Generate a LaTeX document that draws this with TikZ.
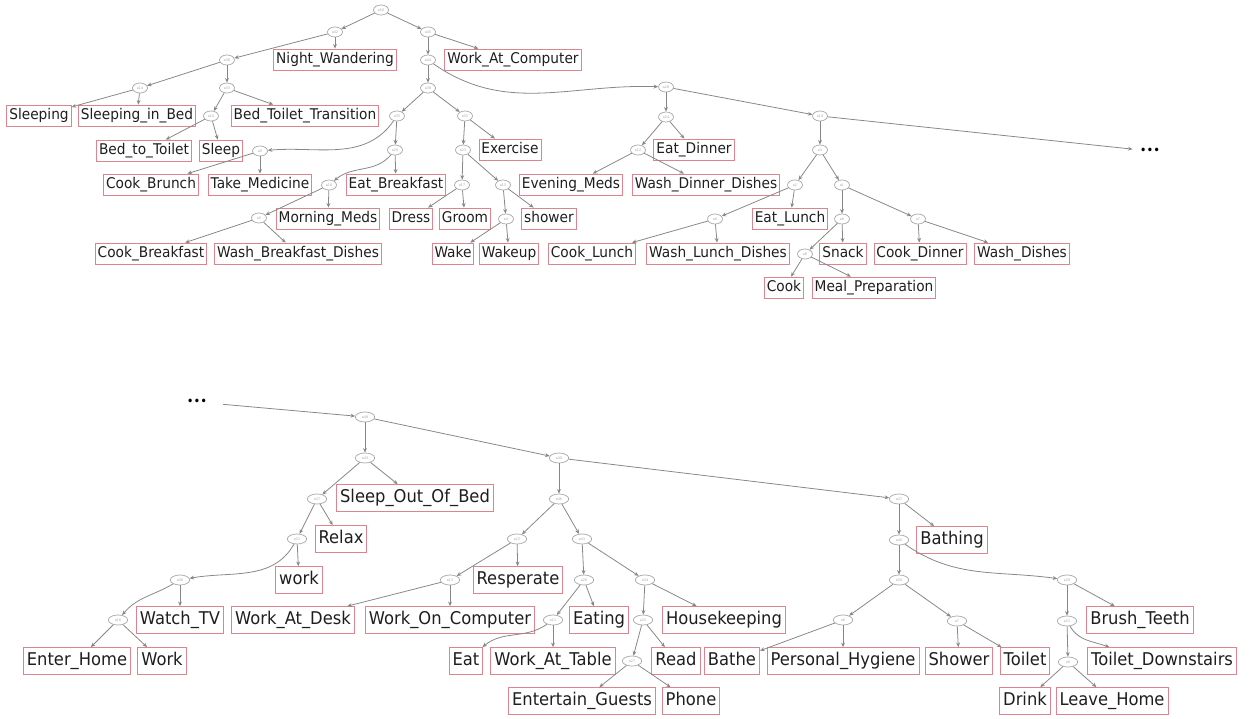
\documentclass[tikz,border=0pt]{standalone}
\usepackage{fontspec}
\setmainfont{DejaVu Sans}[FakeStretch=0.93]
\usetikzlibrary{shapes.geometric,arrows.meta}
\definecolor{boxred}{RGB}{222,132,142}
\definecolor{edgegray}{RGB}{135,135,135}
\definecolor{elgray}{RGB}{165,165,165}
\definecolor{txt}{RGB}{30,30,30}
\begin{document}
\begin{tikzpicture}[x=0.02cm,y=-0.02cm,
 tb/.style={draw=boxred,line width=0.55pt,text=txt,inner xsep=1.4pt,inner ysep=2pt,text height=6.4pt,text depth=2pt,font=\fontsize{8.4}{10}\selectfont},
 bb/.style={draw=boxred,line width=0.55pt,text=txt,inner xsep=2pt,inner ysep=2.6pt,text height=7.6pt,text depth=2.4pt,font=\fontsize{10}{12}\selectfont},
 te/.style={draw=elgray,ellipse,line width=0.4pt,minimum width=8.5pt,minimum height=5.7pt,inner sep=0pt,text=elgray,font=\fontsize{2}{2}\selectfont},
 be/.style={te,minimum width=11pt},
 ed/.style={draw=edgegray,line width=0.45pt,-{Stealth[length=2.6pt,width=2.2pt]}},
 dotsty/.style={inner sep=0pt,font=\fontsize{7}{8}\selectfont,text=black}]
\useasboundingbox (0,0) rectangle (1250,719);
% ---------------- top tree ----------------
\node[te] (root) at (381,10) {a50};
\node[te] (n1) at (335,32) {a42};
\node[te] (n3) at (428,32) {a45};
\node[te] (n2) at (227,60) {a38};
\node[te] (n4) at (428,60) {a44};
\node[te] (nS) at (140,88) {a14};
\node[te] (n9) at (227,88) {a33};
\node[te] (n6) at (428,88) {a39};
\node[te] (n10) at (211,116) {a10};
\node[te] (n7) at (397,116) {a35};
\node[te] (n8) at (465,116) {a32};
\node[te] (n12) at (260,151) {a9};
\node[te] (n13) at (395,150) {a20};
\node[te] (n16) at (463,150) {a23};
\node[te] (n14) at (329,185) {a18};
\node[te] (n17) at (462,185) {a17};
\node[te] (n18) at (503,185) {a15};
\node[te] (n15) at (259,218) {a5};
\node[te] (n19) at (506,219) {a4};
\node[te] (n11) at (666,87) {a28};
\node[te] (n20) at (666,117) {a24};
\node[te] (n22) at (638,150) {a12};
\node[te] (n21) at (820,116) {a19};
\node[te] (n23) at (820,150) {a3};
\node[te] (n24) at (795,185) {a2};
\node[te] (n25) at (842,185) {a1};
\node[te] (n26) at (715,219) {a0};
\node[te] (n27) at (842,219) {a6};
\node[te] (n28) at (918,219) {a7};
\node[te] (n29) at (805,254) {a8};

\node[tb] (NW) at (335,60) {Night\_Wandering};
\node[tb] (WAC) at (513,60) {Work\_At\_Computer};
\node[tb] (Sleeping) at (39,116) {Sleeping};
\node[tb] (SiB) at (137,116) {Sleeping\_in\_Bed};
\node[tb] (BTT) at (305,116) {Bed\_Toilet\_Transition};
\node[tb] (BtT) at (144,151) {Bed\_to\_Toilet};
\node[tb] (Sleep) at (221,151) {Sleep};
\node[tb] (Ex) at (510,150) {Exercise};
\node[tb] (ED) at (694,150) {Eat\_Dinner};
\node[tb] (CB) at (151,185) {Cook\_Brunch};
\node[tb] (TM) at (260,185) {Take\_Medicine};
\node[tb] (EB) at (396,185) {Eat\_Breakfast};
\node[tb] (EM) at (571,185) {Evening\_Meds};
\node[tb] (WDD) at (706,185) {Wash\_Dinner\_Dishes};
\node[tb] (MM) at (328,219) {Morning\_Meds};
\node[tb] (Dress) at (411,219) {Dress};
\node[tb] (Groom) at (465,219) {Groom};
\node[tb] (shower) at (549,219) {shower};
\node[tb] (EL) at (790,219) {Eat\_Lunch};
\node[tb] (CBf) at (151,254) {Cook\_Breakfast};
\node[tb] (WBD) at (298,254) {Wash\_Breakfast\_Dishes};
\node[tb] (Wake) at (453,254) {Wake};
\node[tb] (Wakeup) at (509,254) {Wakeup};
\node[tb] (CL) at (592,254) {Cook\_Lunch};
\node[tb] (WLD) at (718,254) {Wash\_Lunch\_Dishes};
\node[tb] (Snack) at (843,254) {Snack};
\node[tb] (CD) at (920,254) {Cook\_Dinner};
\node[tb] (WD) at (1022,254) {Wash\_Dishes};
\node[tb] (Cook) at (784,288) {Cook};
\node[tb] (MP) at (874,288) {Meal\_Preparation};
\node[dotsty] (dotsA) at (1150,151) {•••};

\foreach \a/\b in {root/n1,root/n3,n1/n2,n1/NW,n2/nS,n2/n9,nS/Sleeping,nS/SiB,n9/n10,n9/BTT,n10/BtT,n10/Sleep,
  n3/n4,n3/WAC,n4/n6,n6/n7,n6/n8,n7/n13,n12/CB,n12/TM,n13/EB,n14/n15,n14/MM,n15/CBf,n15/WBD,
  n8/n16,n8/Ex,n16/n17,n16/n18,n17/Dress,n17/Groom,n18/n19,n18/shower,n19/Wake,n19/Wakeup,
  n11/n20,n11/n21,n20/n22,n20/ED,n22/EM,n22/WDD,n21/n23,n23/n24,n23/n25,n24/n26,n24/EL,n26/CL,n26/WLD,
  n25/n27,n25/n28,n27/n29,n27/Snack,n29/Cook,n29/MP,n28/CD,n28/WD}
  \draw[ed] (\a) -- (\b);
\draw[ed] (n4) to[out=-35,in=178] (n11);
\draw[ed] (n7) to[out=235,in=5] (n12);
\draw[ed] (n13) to[out=230,in=40] (n14);
\draw[ed,shorten >=4pt] (n21) -- (dotsA);
% ---------------- bottom tree ----------------
\node[dotsty] (dotsB) at (197,402) {•••};
\node[be] (a49) at (365,417) {a49};
\node[be] (a43) at (365,458) {a43};
\node[be] (a48) at (559,458) {a48};
\node[be] (a37) at (317,499) {a37};
\node[be] (a46) at (559,499) {a46};
\node[be] (a47) at (899,499) {a47};
\node[be] (a31) at (297,539) {a31};
\node[be] (a22) at (517,539) {a22};
\node[be] (a41) at (582,539) {a41};
\node[be] (a40) at (899,540) {a40};
\node[be] (a36) at (180,580) {a36};
\node[be] (a13) at (450,580) {a13};
\node[be] (a26) at (584,580) {a26};
\node[be] (a34) at (645,580) {a34};
\node[be] (a30) at (899,580) {a30};
\node[be] (a29) at (1067,580) {a29};
\node[be] (a16) at (118,620) {a16};
\node[be] (a11) at (553,620) {a11};
\node[be] (a25) at (643,620) {a25};
\node[be] (a6) at (843,620) {a6};
\node[be] (a7) at (957,621) {a7};
\node[be] (a21) at (1067,621) {a21};
\node[be] (a27) at (632,661) {a27};
\node[be] (a8) at (1068,662) {a8};

\node[bb] (SOOB) at (415,498) {Sleep\_Out\_Of\_Bed};
\node[bb] (Relax) at (341,539) {Relax};
\node[bb] (Bathing) at (952,540) {Bathing};
\node[bb] (work) at (299,580) {work};
\node[bb] (Resp) at (518,580) {Resperate};
\node[bb] (WTV) at (180,620) {Watch\_TV};
\node[bb] (WAD) at (293,620) {Work\_At\_Desk};
\node[bb] (WOC) at (450,620) {Work\_On\_Computer};
\node[bb] (Eating) at (599,620) {Eating};
\node[bb] (HK) at (724,620) {Housekeeping};
\node[bb] (BT) at (1140,620) {Brush\_Teeth};
\node[bb] (EH) at (77,661) {Enter\_Home};
\node[bb] (Work) at (162,661) {Work};
\node[bb] (Eat) at (466,661) {Eat};
\node[bb] (WAT) at (553,661) {Work\_At\_Table};
\node[bb] (Read) at (676,661) {Read};
\node[bb] (Bathe) at (732,661) {Bathe};
\node[bb] (PH) at (843,661) {Personal\_Hygiene};
\node[bb] (Shower) at (959,661) {Shower};
\node[bb] (Toilet) at (1025,661) {Toilet};
\node[bb] (TD) at (1162,661) {Toilet\_Downstairs};
\node[bb] (EG) at (582,701) {Entertain\_Guests};
\node[bb] (Phone) at (691,701) {Phone};
\node[bb] (Drink) at (1025,701) {Drink};
\node[bb] (LH) at (1112,701) {Leave\_Home};

\foreach \a/\b in {a49/a43,a49/a48,a43/a37,a43/SOOB,a37/a31,a37/Relax,a31/work,a36/WTV,a16/EH,a16/Work,
  a48/a46,a48/a47,a46/a22,a46/a41,a22/a13,a22/Resp,a13/WAD,a13/WOC,a41/a26,a41/a34,a26/a11,a26/Eating,
  a11/WAT,a34/a25,a34/HK,a25/a27,a25/Read,a27/EG,a27/Phone,a47/a40,a47/Bathing,a40/a30,a30/a6,a30/a7,
  a6/Bathe,a6/PH,a7/Shower,a7/Toilet,a29/a21,a29/BT,a21/a8,a8/Drink,a8/LH}
  \draw[ed] (\a) -- (\b);
\draw[ed,shorten <=9pt] (dotsB) -- (a49);
\draw[ed] (a31) to[out=240,in=10] (a36);
\draw[ed] (a36) to[out=210,in=50] (a16);
\draw[ed] (a11) to[out=215,in=40] (Eat);
\draw[ed] (a40) to[out=-35,in=172] (a29);
\draw[ed] (a21) to[out=-60,in=160] ([xshift=-30pt]TD.north);
\end{tikzpicture}
\end{document}
